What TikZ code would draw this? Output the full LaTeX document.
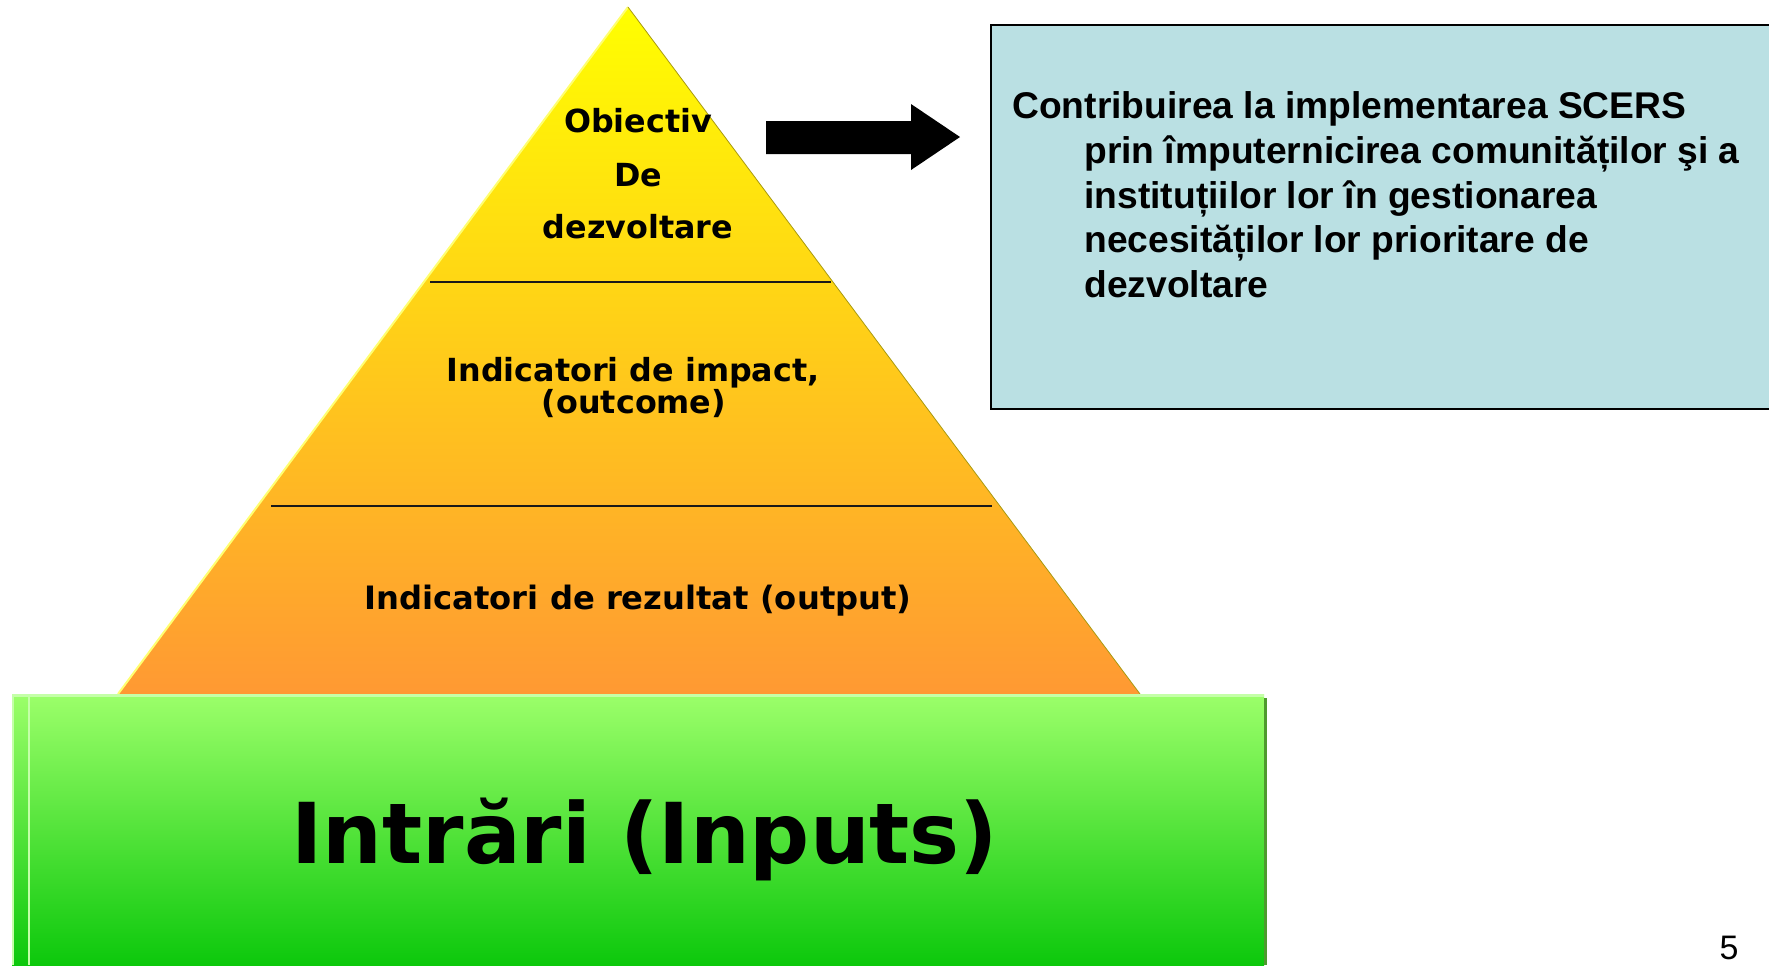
\documentclass[tikz,border=0pt]{standalone}
\usepackage{fontspec}
\newfontfamily\vfont{DejaVu Sans}
\newfontfamily\afont{Liberation Sans}
\definecolor{pyrtop}{HTML}{FFFF00}
\definecolor{pyrmid}{HTML}{FFD42A}
\definecolor{pyrbot}{HTML}{FF9933}
\definecolor{grtop}{HTML}{9CFF6A}
\definecolor{grbot}{HTML}{0CC80C}
\definecolor{grlight}{HTML}{C4FFA8}
\definecolor{grdark}{HTML}{4E9A2E}
\definecolor{bluefill}{HTML}{BAE0E3}
\definecolor{edgelight}{HTML}{FFFF70}
\definecolor{edgedark}{HTML}{A89A10}
\tikzset{
  pyrtext/.style={inner sep=0pt, anchor=base, font=\vfont\bfseries\fontsize{15.9pt}{19pt}\selectfont},
  pyrtextb/.style={inner sep=0pt, anchor=base, font=\vfont\bfseries\fontsize{16.1pt}{19pt}\selectfont},
  bigtext/.style={inner sep=0pt, anchor=base, font=\vfont\bfseries\fontsize{42pt}{48pt}\selectfont},
  boxtext/.style={inner sep=0pt, anchor=base west, font=\afont\bfseries\fontsize{18.6pt}{22pt}\selectfont},
  pagenum/.style={inner sep=0pt, anchor=base, font=\afont\fontsize{17pt}{20pt}\selectfont},
  sepline/.style={draw=black!90, line width=1pt},
}
\begin{document}
\begin{tikzpicture}[x=0.5pt,y=-0.5pt]
\useasboundingbox (0,0) rectangle (1769,965);
% pyramid corners
\coordinate (apex) at (628,7);
\coordinate (bl) at (118,694);
\coordinate (br) at (1140,694);
\shade[top color=pyrtop, middle color=pyrmid, bottom color=pyrbot] (bl) -- (apex) -- (br) -- cycle;
\draw[edgelight, line width=1pt] (bl) -- (apex);
\draw[edgedark, line width=0.4pt] (apex) -- (br);
% separators
\coordinate (s1l) at (430,282);
\coordinate (s1r) at (831,282);
\coordinate (s2l) at (271,506);
\coordinate (s2r) at (992,506);
\draw[sepline] (s1l) -- (s1r);
\draw[sepline] (s2l) -- (s2r);
% pyramid texts
\node[pyrtext] (obj1) at (638,132) {Obiectiv};
\node[pyrtext] (obj2) at (638,186) {De};
\node[pyrtext] (obj3) at (638,238) {dezvoltare};
\node[pyrtext] (imp1) at (633,381) {Indicatori de impact,};
\node[pyrtext] (imp2) at (634,413) {(outcome)};
\node[pyrtextb] (rez) at (638,609) {Indicatori de rezultat (output)};
% green inputs box
\shade[top color=grtop, bottom color=grbot] (12,694) rectangle (1264,965);
\fill[grdark] (1264,698) rectangle (1267,965);
\fill[grlight] (12,694) rectangle (1264,697);
\fill[grlight] (12,694) rectangle (14,965);
\fill[grlight] (28,697) rectangle (30,965);
\node[bigtext] (inp) at (645,863) {Intrări (Inputs)};
% block arrow
\fill[black] (766,121) -- (911,121) -- (911,104) -- (960,137) -- (911,170) -- (911,154) -- (766,154) -- cycle;
% blue box
\draw[fill=bluefill, draw=black, line width=1pt] (991,25) rectangle (1775,409);
\node[boxtext] (b1) at (1012,118) {Contribuirea la implementarea SCERS};
\node[boxtext] (b2) at (1084,163) {prin împuternicirea comunităților şi a};
\node[boxtext] (b3) at (1084,208) {instituțiilor lor în gestionarea};
\node[boxtext] (b4) at (1084,252) {necesităților lor prioritare de};
\node[boxtext] (b5) at (1084,297) {dezvoltare};
% page number
\node[pagenum] (pg) at (1729,959) {5};
\end{tikzpicture}
\end{document}
